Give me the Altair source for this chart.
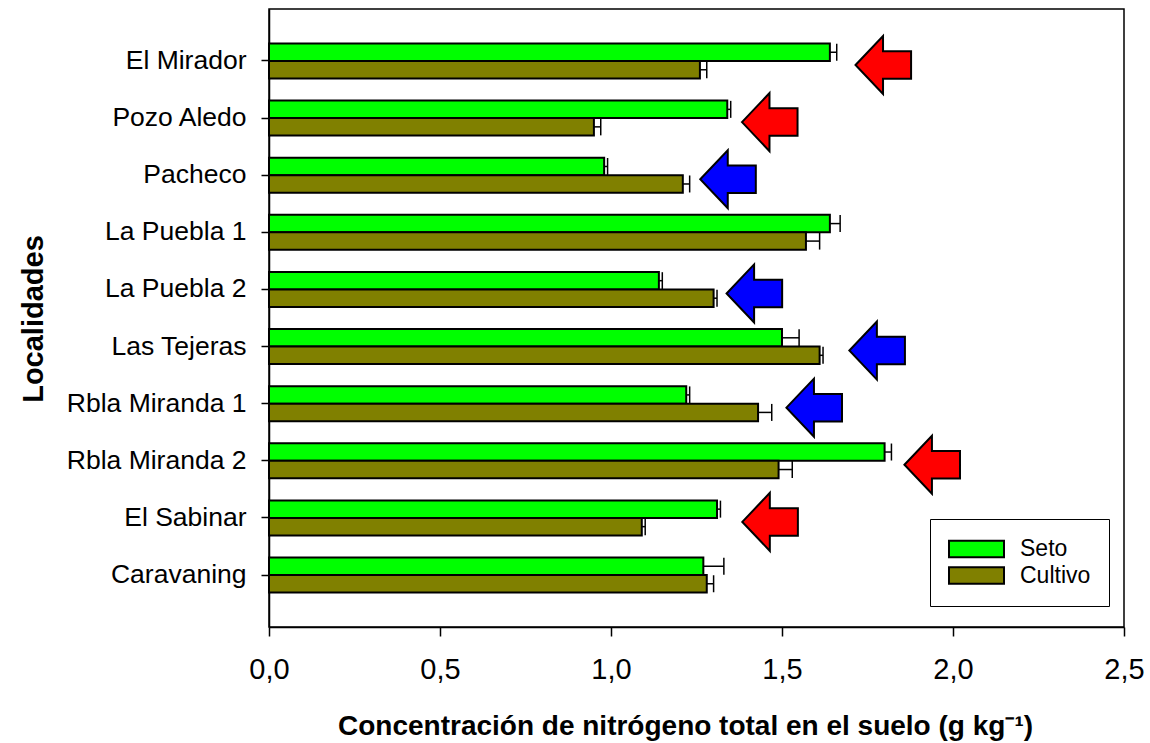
import altair as alt
import pandas as pd

# Localities, top to bottom
localidades = ["El Mirador", "Pozo Aledo", "Pacheco", "La Puebla 1", "La Puebla 2",
               "Las Tejeras", "Rbla Miranda 1", "Rbla Miranda 2", "El Sabinar", "Caravaning"]

# Total soil nitrogen (g kg-1) and its standard error
seto = [1.64, 1.34, 0.98, 1.64, 1.14, 1.50, 1.22, 1.80, 1.31, 1.27]
seto_err = [0.02, 0.01, 0.01, 0.03, 0.01, 0.05, 0.01, 0.02, 0.01, 0.06]
cultivo = [1.26, 0.95, 1.21, 1.57, 1.30, 1.61, 1.43, 1.49, 1.09, 1.28]
cultivo_err = [0.02, 0.02, 0.02, 0.04, 0.01, 0.01, 0.04, 0.04, 0.01, 0.02]

series = ["Seto", "Cultivo"]

# Arrows marking the treatment with the higher value
flecha_loc = ["El Mirador", "Pozo Aledo", "Pacheco", "La Puebla 2",
              "Las Tejeras", "Rbla Miranda 1", "Rbla Miranda 2", "El Sabinar"]
flecha_x = [1.715, 1.383, 1.261, 1.338, 1.697, 1.513, 1.858, 1.384]
flecha_mayor = ["Seto", "Seto", "Cultivo", "Cultivo", "Cultivo", "Cultivo", "Seto", "Seto"]

rows = []
for i, loc in enumerate(localidades):
    rows.append({"loc": loc, "serie": "Seto", "valor": seto[i], "hi": seto[i] + seto_err[i]})
    rows.append({"loc": loc, "serie": "Cultivo", "valor": cultivo[i], "hi": cultivo[i] + cultivo_err[i]})
df = pd.DataFrame(rows)
flechas = pd.DataFrame({"loc": flecha_loc, "x": flecha_x, "mayor": flecha_mayor})

FONT = "Liberation Sans"

x_enc = alt.X(
    "valor:Q",
    scale=alt.Scale(domain=[0, 2.5], nice=False, zero=True),
    axis=alt.Axis(
        values=[0, 0.5, 1.0, 1.5, 2.0, 2.5],
        labelExpr="replace(format(datum.value, '.1f'), '.', ',')",
        labelFlush=False,
        title="Concentración de nitrógeno total en el suelo (g kg⁻¹)",
        titleFont=FONT, titleFontSize=28, titleFontWeight="bold", titleColor="black",
        titleX=416, titleY=107.5, titleAlign="center", titleBaseline="alphabetic",
        labelFont=FONT, labelFontSize=29, labelColor="black",
        labelBaseline="top", labelPadding=19,
        tickSize=9, tickColor="black", tickWidth=1.5,
        domainColor="black", domainWidth=1.5, grid=False,
    ),
)

y_enc = alt.Y(
    "loc:N",
    sort=localidades,
    scale=alt.Scale(paddingInner=0.387, paddingOuter=0.604),
    axis=alt.Axis(
        title="Localidades",
        titleFont=FONT, titleFontSize=29, titleFontWeight="bold", titleColor="black",
        titleAngle=270, titleX=-227, titleY=309.5, titleAlign="center", titleBaseline="alphabetic",
        labelFont=FONT, labelFontSize=26.5, labelColor="black", labelPadding=15,
        tickSize=8, tickColor="black", tickWidth=1.5,
        domainColor="black", domainWidth=1.5, grid=False,
    ),
)

y_off = alt.YOffset("serie:N", sort=series, scale=alt.Scale(paddingInner=0, paddingOuter=0))

bars = alt.Chart(df).mark_bar(stroke="black", strokeWidth=2, opacity=1).encode(
    x=x_enc,
    y=y_enc,
    yOffset=y_off,
    color=alt.Color(
        "serie:N",
        sort=series,
        scale=alt.Scale(domain=series, range=["#00FF00", "#808000"]),
        legend=alt.Legend(
            title=None, orient="none", legendX=661, legendY=510,
            symbolType="M-1,-0.3L1,-0.3L1,0.3L-1,0.3Z", symbolSize=3025,
            symbolStrokeColor="black", symbolStrokeWidth=2, symbolOpacity=1,
            clipHeight=24, rowPadding=2.5, labelOffset=15,
            labelFont=FONT, labelFontSize=23, labelColor="black",
            strokeColor="black", fillColor="white", padding=18, cornerRadius=0,
        ),
    ),
)

err_line = alt.Chart(df).mark_rule(color="black", strokeWidth=1.5).encode(
    x="valor:Q", x2="hi:Q", y=alt.Y("loc:N", sort=localidades), yOffset=y_off
)

err_cap = alt.Chart(df).mark_tick(color="black", thickness=1.5, size=17, orient="vertical", opacity=1).encode(
    x="hi:Q", y=alt.Y("loc:N", sort=localidades), yOffset=y_off
)

arrow_path = "M0,0L1,-1.055L1,-0.5L2.02,-0.5L2.02,0.5L1,0.5L1,1.055Z"
arrows = alt.Chart(flechas).mark_point(
    shape=arrow_path, size=3025, filled=True, stroke="black", strokeWidth=2,
    opacity=1, fillOpacity=1, yOffset=4,
).encode(
    x="x:Q",
    y=alt.Y("loc:N", sort=localidades),
    fill=alt.Fill("mayor:N", scale=alt.Scale(domain=series, range=["#FF0000", "#0000FF"]), legend=None),
)

chart = alt.layer(bars, err_line, err_cap, arrows).properties(
    width=855,
    height=618,
    autosize=alt.AutoSizeParams(type="none"),
    padding={"left": 269, "top": 9, "right": 26, "bottom": 116},
    background="white",
).configure_view(stroke="black", strokeWidth=1.5)

chart.save("out.html", embed_options={"renderer": "svg", "actions": False})
